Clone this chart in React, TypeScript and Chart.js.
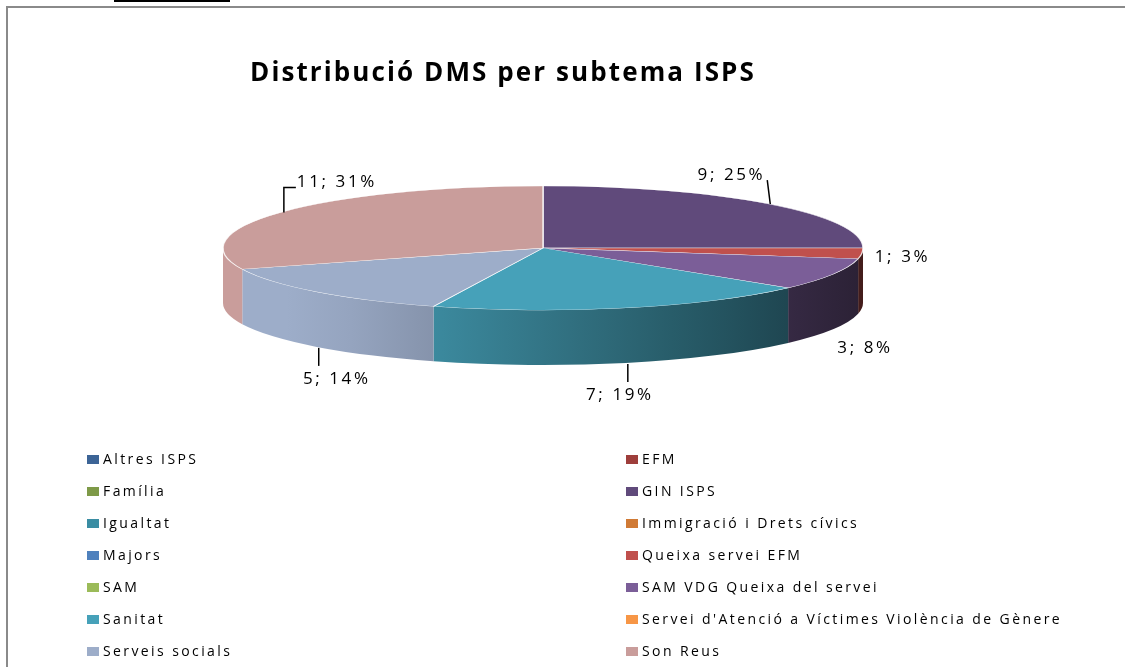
import React, { useEffect, useRef } from "react";
import { Chart, registerables } from "chart.js";

Chart.register(...registerables);

const chartTitle = "Distribució DMS per subtema ISPS";

const categories = [
  "Altres ISPS",
  "EFM",
  "Família",
  "GIN ISPS",
  "Igualtat",
  "Immigració i Drets cívics",
  "Majors",
  "Queixa servei EFM",
  "SAM",
  "SAM VDG Queixa del servei",
  "Sanitat",
  "Servei d'Atenció a Víctimes Violència de Gènere",
  "Serveis socials",
  "Son Reus",
];

const values = [0, 0, 0, 9, 0, 0, 0, 1, 0, 3, 7, 0, 5, 11];

const colors = [
  "#3C6496",
  "#9E3E3B",
  "#7E9A48",
  "#604A7B",
  "#3A8DA3",
  "#D07A35",
  "#4F81BD",
  "#C0504D",
  "#9BBB59",
  "#7B5E98",
  "#46A1B9",
  "#F79646",
  "#9DADC9",
  "#C99D9B",
];

const FONT = '"Open Sans", "Liberation Sans", sans-serif';
const DEPTH = 55;
const SQUASH = 0.194;

function shade(hex: string, f: number): string {
  const n = parseInt(hex.slice(1), 16);
  const r = Math.round(((n >> 16) & 255) * f);
  const g = Math.round(((n >> 8) & 255) * f);
  const b = Math.round((n & 255) * f);
  return `rgb(${Math.min(255, r)},${Math.min(255, g)},${Math.min(255, b)})`;
}

const total = values.reduce((a, b) => a + b, 0);

function geom(chart: any) {
  const meta = chart.getDatasetMeta(0);
  const first = meta.data[0] as any;
  const cx = first.x;
  const cy = first.y;
  const rx = first.outerRadius;
  const ry = rx * SQUASH;
  return { meta, cx, cy, rx, ry };
}

const pie3d = {
  id: "pie3d",
  beforeDraw(chart: any) {
    const ctx = chart.ctx as CanvasRenderingContext2D;
    ctx.save();
    ctx.fillStyle = "#ffffff";
    ctx.fillRect(0, 0, chart.width, chart.height);
    ctx.strokeStyle = "#8a8a8a";
    ctx.lineWidth = 2;
    ctx.strokeRect(7, 7, 1300, 900);
    ctx.fillStyle = "#000000";
    ctx.fillRect(114, 0, 116, 2);
    ctx.restore();
  },
  beforeDatasetsDraw(chart: any) {
    const ctx = chart.ctx as CanvasRenderingContext2D;
    const { meta, cx, cy, rx, ry } = geom(chart);
    ctx.save();
    meta.data.forEach((arc: any, i: number) => {
      if (!values[i]) return;
      const { startAngle, endAngle } = arc.getProps(["startAngle", "endAngle"], true);
      const a0 = Math.max(startAngle, 0);
      const a1 = Math.min(endAngle, Math.PI);
      if (a1 <= a0) return;
      const g = ctx.createLinearGradient(cx - rx, 0, cx + rx, 0);
      for (let t = 0; t <= 1.0001; t += 0.1) {
        g.addColorStop(Math.min(1, t), shade(colors[i], Math.min(1, 1.1 - 0.75 * t)));
      }
      ctx.beginPath();
      ctx.ellipse(cx, cy, rx, ry, 0, a0, a1, false);
      ctx.ellipse(cx, cy + DEPTH, rx, ry, 0, a1, a0, true);
      ctx.closePath();
      ctx.fillStyle = g;
      ctx.fill();
    });
    ctx.restore();
    ctx.save();
    ctx.translate(cx, cy);
    ctx.scale(1, SQUASH);
    ctx.translate(-cx, -cy);
  },
  afterDatasetsDraw(chart: any) {
    const ctx = chart.ctx as CanvasRenderingContext2D;
    ctx.restore();
    const { meta, cx, cy, rx, ry } = geom(chart);

    // data labels
    ctx.save();
    ctx.fillStyle = "#000000";
    ctx.strokeStyle = "#000000";
    ctx.lineWidth = 1.5;
    ctx.font = `17px ${FONT}`;
    (ctx as any).letterSpacing = "2.6px";
    ctx.textBaseline = "middle";
    meta.data.forEach((arc: any, i: number) => {
      if (!values[i]) return;
      const { startAngle, endAngle } = arc.getProps(["startAngle", "endAngle"], true);
      const m = (startAngle + endAngle) / 2;
      const c = Math.cos(m);
      const s = Math.sin(m);
      const ax = cx + rx * c;
      let ay = cy + ry * s;
      const text = `${values[i]}; ${Math.round((values[i] / total) * 100)}%`;
      const line = (pts: number[][]) => {
        ctx.beginPath();
        ctx.moveTo(pts[0][0], pts[0][1]);
        for (let k = 1; k < pts.length; k++) ctx.lineTo(pts[k][0], pts[k][1]);
        ctx.stroke();
      };
      if (s < -0.3) {
        if (c > 0) {
          line([[ax + 1, ay], [ax - 2, ay - 24]]);
          ctx.textAlign = "right";
          ctx.fillText(text, ax - 4, ay - 29);
        } else {
          line([[ax + 3, ay], [ax + 3, ay - 25], [ax + 15, ay - 25]]);
          ctx.textAlign = "left";
          ctx.fillText(text, ax + 16, ay - 30);
        }
      } else if (s < 0.2) {
        ctx.textAlign = "left";
        ctx.fillText(text, ax + 13, ay + 4);
      } else if (m < (50 * Math.PI) / 180) {
        ay += DEPTH;
        ctx.textAlign = "center";
        ctx.fillText(text, ax + 32, ay + 19);
      } else {
        ay += DEPTH;
        line([[ax + 2, ay + 1], [ax + 2, ay + 19]]);
        ctx.textAlign = "center";
        ctx.fillText(text, ax + (c < 0 ? 20 : -6), ay + 32);
      }
    });
    ctx.restore();

    // title
    ctx.save();
    ctx.fillStyle = "#000000";
    ctx.font = `bold 26px ${FONT}`;
    (ctx as any).letterSpacing = "2.1px";
    ctx.textAlign = "center";
    ctx.textBaseline = "middle";
    ctx.fillText(chartTitle, 503, 74);
    ctx.restore();

    // legend in two columns
    ctx.save();
    ctx.font = `14px ${FONT}`;
    (ctx as any).letterSpacing = "2.4px";
    ctx.textBaseline = "middle";
    ctx.textAlign = "left";
    categories.forEach((name, i) => {
      const col = i % 2;
      const row = Math.floor(i / 2);
      const x = col === 0 ? 87 : 626;
      const y = 460 + row * 32;
      ctx.fillStyle = colors[i];
      ctx.fillRect(x, y - 5, 12, 9);
      ctx.fillStyle = "#000000";
      ctx.fillText(name, x + 16, y);
    });
    ctx.restore();
  },
};

export default function App() {
  const ref = useRef<HTMLCanvasElement | null>(null);
  useEffect(() => {
    if (!ref.current) return;
    const chart = new Chart(ref.current, {
      type: "pie",
      data: {
        labels: categories,
        datasets: [
          {
            data: values,
            backgroundColor: colors,
            borderColor: "rgba(255,255,255,0.8)",
            borderWidth: (ctx: any) => (values[ctx.dataIndex] > 0 ? 1.5 : 0),
            radius: 320,
            clip: false,
          } as any,
        ],
      },
      options: {
        responsive: false,
        animation: false,
        events: [],
        layout: { padding: { left: 0, right: 39, top: 0, bottom: 171 } },
        plugins: {
          legend: { display: false },
          title: { display: false },
          tooltip: { enabled: false },
        },
      } as any,
      plugins: [pie3d],
    });
    return () => chart.destroy();
  }, []);
  return (
    <div style={{ position: "fixed", left: 0, top: 0, width: 1125, height: 667 }}>
      <canvas ref={ref} width={1125} height={667} style={{ width: 1125, height: 667, display: "block" }} />
    </div>
  );
}
